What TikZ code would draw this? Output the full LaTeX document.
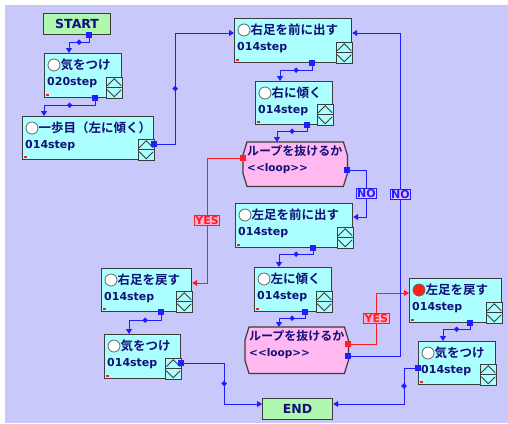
\documentclass[tikz,border=0pt]{standalone}
\usepackage{fontspec}
\setmainfont{DejaVu Sans}
\newfontfamily\jpfont{Noto Sans CJK JP Bold}
\usetikzlibrary{arrows.meta,shapes.geometric}
\definecolor{bglav}{RGB}{200,200,250}
\definecolor{boxcyan}{RGB}{172,255,255}
\definecolor{termgreen}{RGB}{176,248,176}
\definecolor{looppink}{RGB}{255,184,240}
\definecolor{boxline}{RGB}{60,60,60}
\definecolor{navytext}{RGB}{16,16,120}
\definecolor{linkblue}{RGB}{30,30,255}
\definecolor{linkred}{RGB}{255,30,30}
\definecolor{nofill}{RGB}{235,190,255}
\definecolor{yesfill}{RGB}{255,176,210}

\tikzset{
  stepbox/.style={rectangle, draw=boxline, line width=1.2bp, fill=boxcyan, anchor=north west, inner sep=0pt},
  termbox/.style={stepbox, fill=termgreen, text=navytext, font=\bfseries\fontsize{12.5bp}{14bp}\selectfont},
  loopbox/.style={rectangle, anchor=north west, inner sep=0pt},
  loopline/.style={draw=boxline, line width=1.2bp, fill=looppink},
  titletext/.style={anchor=west, inner sep=0pt, text=navytext, font=\jpfont\fontsize{12.5bp}{14bp}\selectfont},
  steptext/.style={anchor=west, inner sep=0pt, text=navytext, font=\bfseries\fontsize{11bp}{13bp}\selectfont},
  knob/.style={draw=boxline!80, line width=0.8bp},
  spinner/.style={draw=boxline, line width=0.9bp},
  port/.style={rectangle, fill=linkblue, minimum size=6bp, inner sep=0pt},
  yesport/.style={port, fill=linkred},
  conn/.style={draw=linkblue, line width=1bp, ->},
  yesconn/.style={conn, draw=linkred},
  dmd/.style={diamond, fill=linkblue, inner sep=0pt, minimum size=6bp},
  nolabel/.style={rectangle, draw=linkblue, fill=nofill, text=linkblue, line width=1bp, inner sep=1bp,
    font=\bfseries\fontsize{11bp}{12bp}\selectfont},
  yeslabel/.style={nolabel, draw=linkred, fill=yesfill, text=linkred}
}

% box with knob, title, step count and spinner
\newcommand{\stepnode}[8]{%
  \node[stepbox, minimum width=#4bp, minimum height=#5bp] (#1) at (#2,#3) {};
  \draw[knob, fill=#6] ([shift={(10,12)}]#1.north west) circle (6bp);
  \node[titletext] (#1-title) at ([shift={(16.5,12)}]#1.north west) {#7};
  \node[steptext] (#1-step) at ([shift={(3,30)}]#1.north west) {#8};
  \draw[spinner, fill=boxcyan] ([shift={(-16,-21)}]#1.south east) rectangle (#1.south east);
  \draw[spinner] ([shift={(-16,-10.5)}]#1.south east) -- ([shift={(0,-10.5)}]#1.south east);
  \draw[spinner] ([shift={(-15,-12.5)}]#1.south east) -- ([shift={(-8,-19.5)}]#1.south east) -- ([shift={(-1,-12.5)}]#1.south east);
  \draw[spinner] ([shift={(-15,-8.5)}]#1.south east) -- ([shift={(-8,-1.5)}]#1.south east) -- ([shift={(-1,-8.5)}]#1.south east);
  \fill[linkred] ([shift={(2,-4)}]#1.south west) rectangle ++(3,1.5);
}

% loop test box
\newcommand{\loopnode}[5]{%
  \node[loopbox, minimum width=#4bp, minimum height=#5bp] (#1) at (#2,#3) {};
  \draw[loopline] ([shift={(4,0)}]#1.north west) -- ([shift={(-4,0)}]#1.north east)
    -- ([shift={(0,13)}]#1.north east) -- ([shift={(0,-13)}]#1.south east)
    -- ([shift={(-4,0)}]#1.south east) -- ([shift={(4,0)}]#1.south west)
    -- ([shift={(0,-13)}]#1.south west) -- ([shift={(0,13)}]#1.north west) -- cycle;
  \node[titletext, font=\jpfont\fontsize{12bp}{14bp}\selectfont] (#1-title) at ([shift={(4,9)}]#1.north west) {ループを抜けるか};
  \node[steptext, font=\bfseries\fontsize{10.5bp}{12bp}\selectfont] (#1-step) at ([shift={(4,27)}]#1.north west) {<{}<loop>{}>};
}

\begin{document}
\begin{tikzpicture}[x=1bp, y=-1bp, >={Triangle[length=5bp,width=6bp]}]
    \useasboundingbox (0,0) rectangle (508,423);
    \fill[white] (0,0) rectangle (508,423);
    \fill[bglav] (5,5) rectangle (508,423);

    % left column
    \node[termbox, minimum width=67bp, minimum height=21bp] (start) at (43,13) {START};
    \stepnode{kio1}{44}{53}{77}{44}{white}{気をつけ}{020step}
    \stepnode{ippo}{22}{116}{131}{43}{white}{一歩目（左に傾く）}{014step}
    \stepnode{rmodo}{101}{268}{90}{43}{white}{右足を戻す}{014step}
    \stepnode{kio2}{104}{334}{76}{44}{white}{気をつけ}{014step}

    % middle column
    \stepnode{rmae}{234}{18}{117}{44}{white}{右足を前に出す}{014step}
    \stepnode{rkat}{255}{81}{77}{43}{white}{右に傾く}{014step}
    \loopnode{loop1}{243}{142}{104}{44}
    \stepnode{lmae}{235}{203}{117}{44}{white}{左足を前に出す}{014step}
    \stepnode{lkat}{254}{267}{77}{44}{white}{左に傾く}{014step}
    \loopnode{loop2}{245}{327}{103}{46}
    \node[termbox, minimum width=70bp, minimum height=21bp] (finish) at (262,398) {END};

    % right column
    \stepnode{lmodo}{409}{278}{92}{44}{linkred}{左足を戻す}{014step}
    \stepnode{kio3}{418}{341}{77}{43}{white}{気をつけ}{014step}

    % ports
    \node[port] (start-out) at ([shift={(-22,0)}]start.south east) {};
    \node[port] (kio1-out) at ([shift={(-27,0)}]kio1.south east) {};
    \node[port] (ippo-out) at ([shift={(0,28)}]ippo.north east) {};
    \node[port] (rmae-out) at ([shift={(-40,0)}]rmae.south east) {};
    \node[port] (rkat-out) at ([shift={(-26,0)}]rkat.south east) {};
    \node[yesport] (loop1-yes) at ([shift={(0,16)}]loop1.north west) {};
    \node[port] (loop1-no) at ([shift={(0,28)}]loop1.north east) {};
    \node[port] (lmae-out) at ([shift={(-40,0)}]lmae.south east) {};
    \node[port] (lkat-out) at ([shift={(-27,0)}]lkat.south east) {};
    \node[yesport] (loop2-yes) at ([shift={(0,17)}]loop2.north east) {};
    \node[port] (loop2-no) at ([shift={(0,29)}]loop2.north east) {};
    \node[port] (rmodo-out) at ([shift={(-31,0)}]rmodo.south east) {};
    \node[port] (kio2-out) at ([shift={(0,29)}]kio2.north east) {};
    \node[port] (lmodo-out) at ([shift={(-32,0)}]lmodo.south east) {};
    \node[port] (kio3-out) at ([shift={(0,27)}]kio3.north west) {};

    % connectors
    \draw[conn] (start-out.center) -- ++(0,7) -| node[dmd, pos=.25] (d1) {} ([shift={(25,0)}]kio1.north west);
    \draw[conn] (kio1-out.center) -- ++(0,7) -| node[dmd, pos=.25] (d2) {} ([shift={(22,0)}]ippo.north west);
    \draw[conn] (ippo-out.center) -- ++(21,0) |- node[dmd, pos=.25] (d3) {} ([shift={(0,15)}]rmae.north west);
    \draw[conn] (rmae-out.center) -- ++(0,7) -| node[dmd, pos=.25] (d4) {} ([shift={(25,0)}]rkat.north west);
    \draw[conn] (rkat-out.center) -- ++(0,6) -| node[dmd, pos=.25] (d5) {} ([shift={(34,0)}]loop1.north west);
    \draw[yesconn] (loop1-yes.center) -- ++(-36,0) |- node[yeslabel, pos=.25] (yes1) {YES} ([shift={(0,15)}]rmodo.north east);
    \draw[conn] (loop1-no.center) -- ++(19,0) |- node[nolabel, pos=.25] (no1) {NO} ([shift={(0,14)}]lmae.north east);
    \draw[conn] (lmae-out.center) -- ++(0,6) -| node[dmd, pos=.25] (d6) {} ([shift={(25,0)}]lkat.north west);
    \draw[conn] (lkat-out.center) -- ++(0,6) -| node[dmd, pos=.25] (d7) {} ([shift={(34,0)}]loop2.north west);
    \draw[yesconn] (loop2-yes.center) -- ++(28,0) |- node[yeslabel, pos=.25] (yes2) {YES} ([shift={(0,15)}]lmodo.north west);
    \draw[conn] (loop2-no.center) -- ++(52,0) |- node[nolabel, pos=.25] (no2) {NO} ([shift={(0,15)}]rmae.north east);
    \draw[conn] (rmodo-out.center) -- ++(0,8) -| node[dmd, pos=.25] (d8) {} ([shift={(25,0)}]kio2.north west);
    \draw[conn] (kio2-out.center) -- ++(43,0) |- node[dmd, pos=.25] (d9) {} ([shift={(0,6)}]finish.north west);
    \draw[conn] (lmodo-out.center) -- ++(0,6) -| node[dmd, pos=.25] (d10) {} ([shift={(25,0)}]kio3.north west);
    \draw[conn] (kio3-out.center) -- ++(-14,0) |- node[dmd, pos=.25] (d11) {} ([shift={(0,6)}]finish.north east);
\end{tikzpicture}
\end{document}
